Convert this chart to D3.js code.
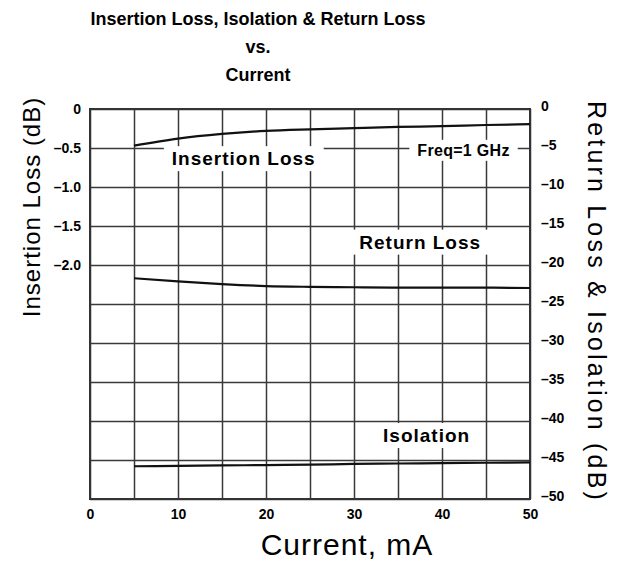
<!DOCTYPE html>
<html>
<head>
<meta charset="utf-8">
<script src="https://cdn.jsdelivr.net/npm/d3@7"></script>
<style>
body { margin: 0; background: #fff; }
text { font-family: "Liberation Sans", Arial, sans-serif; }
.grid line { stroke: #3a3a3a; stroke-width: 1.5; }
.grid path { display: none; }
.ticks path, .ticks line { display: none; }
.ticks text { font-size: 14px; font-weight: bold; fill: #000; }
</style>
</head>
<body>
<div id="graph"></div>
<script>
// data
var current = [5, 10, 15, 20, 25, 30, 35, 40, 45, 50];
var insertionLoss = [-0.47, -0.38, -0.32, -0.28, -0.26, -0.245, -0.23, -0.22, -0.205, -0.195];
var returnLoss = [-21.7, -22.1, -22.45, -22.7, -22.8, -22.85, -22.9, -22.9, -22.9, -22.95];
var isolation = [-45.8, -45.75, -45.7, -45.65, -45.6, -45.5, -45.45, -45.4, -45.35, -45.3];

var xTicks = [0, 10, 20, 30, 40, 50];
var xGrid = [0, 5, 10, 15, 20, 25, 30, 35, 40, 45, 50];
var leftTicks = [0, -0.5, -1.0, -1.5, -2.0];
var rightTicks = [0, -5, -10, -15, -20, -25, -30, -35, -40, -45, -50];

var titleLines = ["Insertion Loss, Isolation & Return Loss", "vs.", "Current"];

var width = 619;
var height = 566;

var x = d3.scaleLinear().domain([0, 50]).range([90, 530]);
var yRight = d3.scaleLinear().domain([0, -50]).range([109, 499]);
var yLeft = d3.scaleLinear().domain([0, -5]).range([109, 499]);

var svg = d3.select('#graph')
    .append('svg')
    .attr('width', width)
    .attr('height', height);

function dash(d, digits) {
    var s = digits ? Math.abs(d).toFixed(digits) : String(Math.abs(d));
    if (d === 0) return '0';
    return '\u2013' + s;
}

// grid
svg.append('g')
    .attr('class', 'grid')
    .attr('transform', 'translate(0,499)')
    .call(d3.axisBottom(x).tickValues(xGrid).tickSize(-390).tickFormat(''));
svg.append('g')
    .attr('class', 'grid')
    .attr('transform', 'translate(90,0)')
    .call(d3.axisLeft(yRight).tickValues(rightTicks).tickSize(-440).tickFormat(''));

// frame
svg.append('rect')
    .attr('x', x(0)).attr('y', yRight(0))
    .attr('width', x(50) - x(0)).attr('height', yRight(-50) - yRight(0))
    .attr('fill', 'none').attr('stroke', '#333').attr('stroke-width', 2);

// tick labels
svg.append('g').attr('class', 'ticks')
    .attr('transform', 'translate(0,499)')
    .call(d3.axisBottom(x).tickValues(xTicks).tickSize(0).tickPadding(10));
svg.append('g').attr('class', 'ticks')
    .attr('transform', 'translate(90,0)')
    .call(d3.axisLeft(yLeft).tickValues(leftTicks).tickSize(0).tickPadding(9)
        .tickFormat(function(d) { return dash(d, 1); }));
var rt = svg.append('g').attr('class', 'ticks')
    .attr('transform', 'translate(530,0)')
    .call(d3.axisRight(yRight).tickValues(rightTicks).tickSize(0).tickPadding(11)
        .tickFormat(function(d) { return dash(d, 0); }));
rt.selectAll('text').attr('dy', '0.1em');

// label boxes (white, break the grid)
var labels = [
    {text: 'Insertion Loss', cx: 9.3, cy: -7.2, size: 19, ls: 1},
    {text: 'Freq=1 GHz', cx: 37.2, cy: -6.0, size: 16, ls: 0.3},
    {text: 'Return Loss', cx: 30.6, cy: -17.9, size: 19, ls: 1},
    {text: 'Isolation', cx: 33.3, cy: -42.7, size: 19, ls: 1}
];
var lg = svg.append('g');
labels.forEach(function(l) {
    var r = lg.append('rect').attr('fill', '#fff');
    var t = lg.append('text')
        .attr('x', x(l.cx)).attr('y', yRight(l.cy))
        .attr('font-size', l.size).attr('font-weight', 'bold')
        .attr('letter-spacing', l.ls)
        .text(l.text);
    var b = t.node().getBBox();
    r.attr('x', b.x - 8).attr('y', b.y - 2)
        .attr('width', b.width + 16).attr('height', b.height + 4);
});

// curves
var series = [
    {values: insertionLoss, y: yLeft},
    {values: returnLoss, y: yRight},
    {values: isolation, y: yRight}
];
series.forEach(function(s) {
    var line = d3.line()
        .x(function(d, i) { return x(current[i]); })
        .y(function(d) { return s.y(d); })
        .curve(d3.curveMonotoneX);
    svg.append('path')
        .datum(s.values)
        .attr('d', line)
        .attr('fill', 'none')
        .attr('stroke', '#111')
        .attr('stroke-width', 2.2);
});

// titles
svg.selectAll('.title')
    .data(titleLines)
    .enter()
    .append('text')
    .attr('class', 'title')
    .attr('x', 258)
    .attr('y', function(d, i) { return 25 + i * 28; })
    .attr('text-anchor', 'middle')
    .attr('font-size', 18)
    .attr('font-weight', 'bold')
    .text(function(d) { return d; });

svg.append('text')
    .attr('transform', 'translate(40,207) rotate(-90)')
    .attr('text-anchor', 'middle')
    .attr('font-size', 24)
    .attr('letter-spacing', 1)
    .text('Insertion Loss (dB)');

svg.append('text')
    .attr('transform', 'translate(588,302) rotate(90)')
    .attr('text-anchor', 'middle')
    .attr('font-size', 25)
    .attr('letter-spacing', 3.2)
    .text('Return Loss & Isolation (dB)');

svg.append('text')
    .attr('x', 347)
    .attr('y', 555)
    .attr('text-anchor', 'middle')
    .attr('font-size', 30)
    .attr('letter-spacing', 1)
    .text('Current, mA');
</script>
</body>
</html>
